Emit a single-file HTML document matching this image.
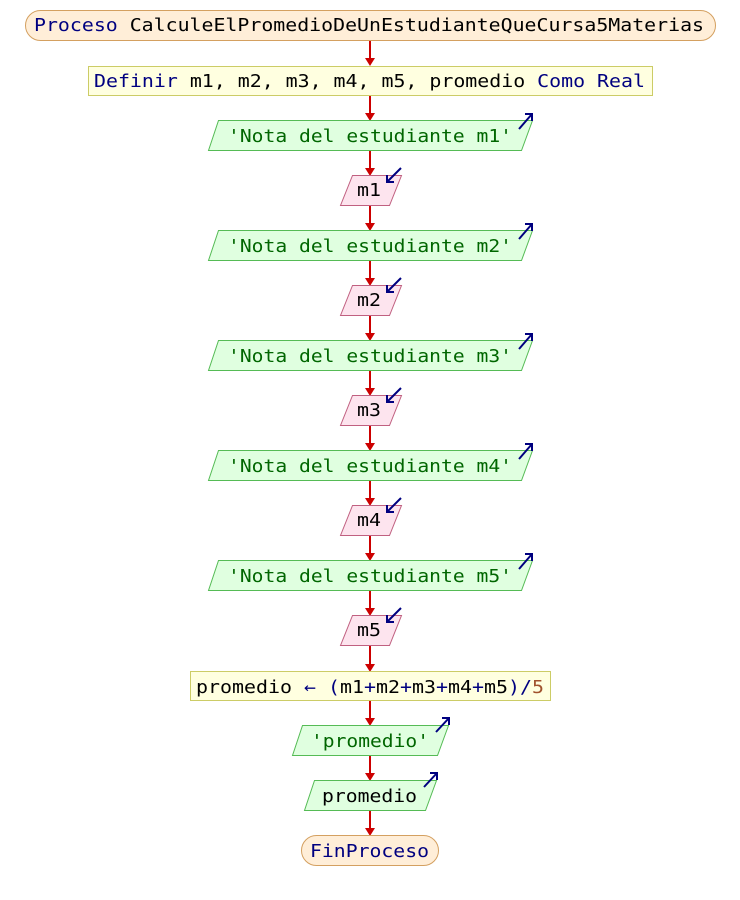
<!DOCTYPE html>
<html><head><meta charset="utf-8"><style>body{margin:0;background:#fff}svg{display:block}</style></head><body>
<svg width="740" height="900" xmlns="http://www.w3.org/2000/svg" font-family="'DejaVu Sans Mono', 'Liberation Mono', monospace" font-size="18">
<g stroke="#cc0000" stroke-width="2">
<line x1="370" y1="40" x2="370" y2="60"/><line x1="370" y1="95" x2="370" y2="115"/>
<line x1="370" y1="150" x2="370" y2="170"/><line x1="370" y1="205" x2="370" y2="225"/>
<line x1="370" y1="260" x2="370" y2="280"/><line x1="370" y1="315" x2="370" y2="335"/>
<line x1="370" y1="370" x2="370" y2="390"/><line x1="370" y1="425" x2="370" y2="445"/>
<line x1="370" y1="480" x2="370" y2="500"/><line x1="370" y1="535" x2="370" y2="555"/>
<line x1="370" y1="590" x2="370" y2="610"/><line x1="370" y1="645" x2="370" y2="666"/>
<line x1="370" y1="700" x2="370" y2="720"/><line x1="370" y1="755" x2="370" y2="775"/>
<line x1="370" y1="810" x2="370" y2="830"/>
</g>
<g fill="#cc0000">
<path d="M365,58 L375,58 L370,66 z"/><path d="M365,113 L375,113 L370,121 z"/>
<path d="M365,168 L375,168 L370,176 z"/><path d="M365,223 L375,223 L370,231 z"/>
<path d="M365,278 L375,278 L370,286 z"/><path d="M365,333 L375,333 L370,341 z"/>
<path d="M365,388 L375,388 L370,396 z"/><path d="M365,443 L375,443 L370,451 z"/>
<path d="M365,498 L375,498 L370,506 z"/><path d="M365,553 L375,553 L370,561 z"/>
<path d="M365,608 L375,608 L370,616 z"/><path d="M365,664 L375,664 L370,672 z"/>
<path d="M365,718 L375,718 L370,726 z"/><path d="M365,773 L375,773 L370,781 z"/>
<path d="M365,828 L375,828 L370,836 z"/>
</g>
<rect x="25.5" y="10.5" width="690" height="30" rx="15" fill="#ffeed8" stroke="#d4a060"/>
<text x="34" y="31" textLength="670" lengthAdjust="spacingAndGlyphs" fill="#000080">Proceso <tspan fill="#000">CalculeElPromedioDeUnEstudianteQueCursa5Materias</tspan></text>
<rect x="88.5" y="66.5" width="564" height="29" fill="#ffffe0" stroke="#cccc66"/>
<text x="94" y="87" textLength="551" lengthAdjust="spacingAndGlyphs" fill="#000"><tspan fill="#000080">Definir</tspan> m1, m2, m3, m4, m5, promedio <tspan fill="#000080">Como Real</tspan></text>
<g id="n1">
<path d="M218.5,120.5 L532.5,120.5 L521.5,150.5 L208.5,150.5 z" fill="#e0ffe0" stroke="#55bb55"/>
<text x="228" y="142" textLength="284" lengthAdjust="spacingAndGlyphs" fill="#006600">'Nota del estudiante m1'</text>
<path d="M519,129 L532,114 M525,114 L532,114 L532,121" stroke="#000080" stroke-width="2" fill="none"/>
<path d="M352.5,175.5 L401.5,175.5 L389.5,205.5 L340.5,205.5 z" fill="#fde4ee" stroke="#c06080"/>
<text x="357" y="196" textLength="24" lengthAdjust="spacingAndGlyphs" fill="#000">m1</text>
<path d="M401,168 L387,182 M387,175 L387,182 L394,182" stroke="#000080" stroke-width="2" fill="none"/>
</g>
<g transform="translate(0,110)">
<path d="M218.5,120.5 L532.5,120.5 L521.5,150.5 L208.5,150.5 z" fill="#e0ffe0" stroke="#55bb55"/>
<text x="228" y="142" textLength="284" lengthAdjust="spacingAndGlyphs" fill="#006600">'Nota del estudiante m2'</text>
<path d="M519,129 L532,114 M525,114 L532,114 L532,121" stroke="#000080" stroke-width="2" fill="none"/>
<path d="M352.5,175.5 L401.5,175.5 L389.5,205.5 L340.5,205.5 z" fill="#fde4ee" stroke="#c06080"/>
<text x="357" y="196" textLength="24" lengthAdjust="spacingAndGlyphs" fill="#000">m2</text>
<path d="M401,168 L387,182 M387,175 L387,182 L394,182" stroke="#000080" stroke-width="2" fill="none"/>
</g>
<g transform="translate(0,220)">
<path d="M218.5,120.5 L532.5,120.5 L521.5,150.5 L208.5,150.5 z" fill="#e0ffe0" stroke="#55bb55"/>
<text x="228" y="142" textLength="284" lengthAdjust="spacingAndGlyphs" fill="#006600">'Nota del estudiante m3'</text>
<path d="M519,129 L532,114 M525,114 L532,114 L532,121" stroke="#000080" stroke-width="2" fill="none"/>
<path d="M352.5,175.5 L401.5,175.5 L389.5,205.5 L340.5,205.5 z" fill="#fde4ee" stroke="#c06080"/>
<text x="357" y="196" textLength="24" lengthAdjust="spacingAndGlyphs" fill="#000">m3</text>
<path d="M401,168 L387,182 M387,175 L387,182 L394,182" stroke="#000080" stroke-width="2" fill="none"/>
</g>
<g transform="translate(0,330)">
<path d="M218.5,120.5 L532.5,120.5 L521.5,150.5 L208.5,150.5 z" fill="#e0ffe0" stroke="#55bb55"/>
<text x="228" y="142" textLength="284" lengthAdjust="spacingAndGlyphs" fill="#006600">'Nota del estudiante m4'</text>
<path d="M519,129 L532,114 M525,114 L532,114 L532,121" stroke="#000080" stroke-width="2" fill="none"/>
<path d="M352.5,175.5 L401.5,175.5 L389.5,205.5 L340.5,205.5 z" fill="#fde4ee" stroke="#c06080"/>
<text x="357" y="196" textLength="24" lengthAdjust="spacingAndGlyphs" fill="#000">m4</text>
<path d="M401,168 L387,182 M387,175 L387,182 L394,182" stroke="#000080" stroke-width="2" fill="none"/>
</g>
<g transform="translate(0,440)">
<path d="M218.5,120.5 L532.5,120.5 L521.5,150.5 L208.5,150.5 z" fill="#e0ffe0" stroke="#55bb55"/>
<text x="228" y="142" textLength="284" lengthAdjust="spacingAndGlyphs" fill="#006600">'Nota del estudiante m5'</text>
<path d="M519,129 L532,114 M525,114 L532,114 L532,121" stroke="#000080" stroke-width="2" fill="none"/>
<path d="M352.5,175.5 L401.5,175.5 L389.5,205.5 L340.5,205.5 z" fill="#fde4ee" stroke="#c06080"/>
<text x="357" y="196" textLength="24" lengthAdjust="spacingAndGlyphs" fill="#000">m5</text>
<path d="M401,168 L387,182 M387,175 L387,182 L394,182" stroke="#000080" stroke-width="2" fill="none"/>
</g>
<rect x="190.5" y="671.5" width="360" height="29" fill="#ffffe0" stroke="#cccc66"/>
<text x="196" y="693" textLength="348" lengthAdjust="spacingAndGlyphs" fill="#000">promedio <tspan fill="#000080">←</tspan> <tspan fill="#000080">(</tspan>m1<tspan fill="#000080">+</tspan>m2<tspan fill="#000080">+</tspan>m3<tspan fill="#000080">+</tspan>m4<tspan fill="#000080">+</tspan>m5<tspan fill="#000080">)/</tspan><tspan fill="#a0522d">5</tspan></text>
<path d="M302.5,725.5 L448.5,725.5 L437.5,755.5 L292.5,755.5 z" fill="#e0ffe0" stroke="#55bb55"/>
<text x="311" y="747" textLength="118" lengthAdjust="spacingAndGlyphs" fill="#006600">'promedio'</text>
<path d="M436,732 L449,718 M442,718 L449,718 L449,725" stroke="#000080" stroke-width="2" fill="none"/>
<path d="M314.5,780.5 L436.5,780.5 L425.5,810.5 L304.5,810.5 z" fill="#e0ffe0" stroke="#55bb55"/>
<text x="322" y="802" textLength="95" lengthAdjust="spacingAndGlyphs" fill="#000">promedio</text>
<path d="M424,787 L437,773 M430,773 L437,773 L437,780" stroke="#000080" stroke-width="2" fill="none"/>
<rect x="301.5" y="835.5" width="137" height="30" rx="15" fill="#ffeed8" stroke="#d4a060"/>
<text x="310" y="857" textLength="119" lengthAdjust="spacingAndGlyphs" fill="#000080">FinProceso</text>
</svg>
</body></html>
